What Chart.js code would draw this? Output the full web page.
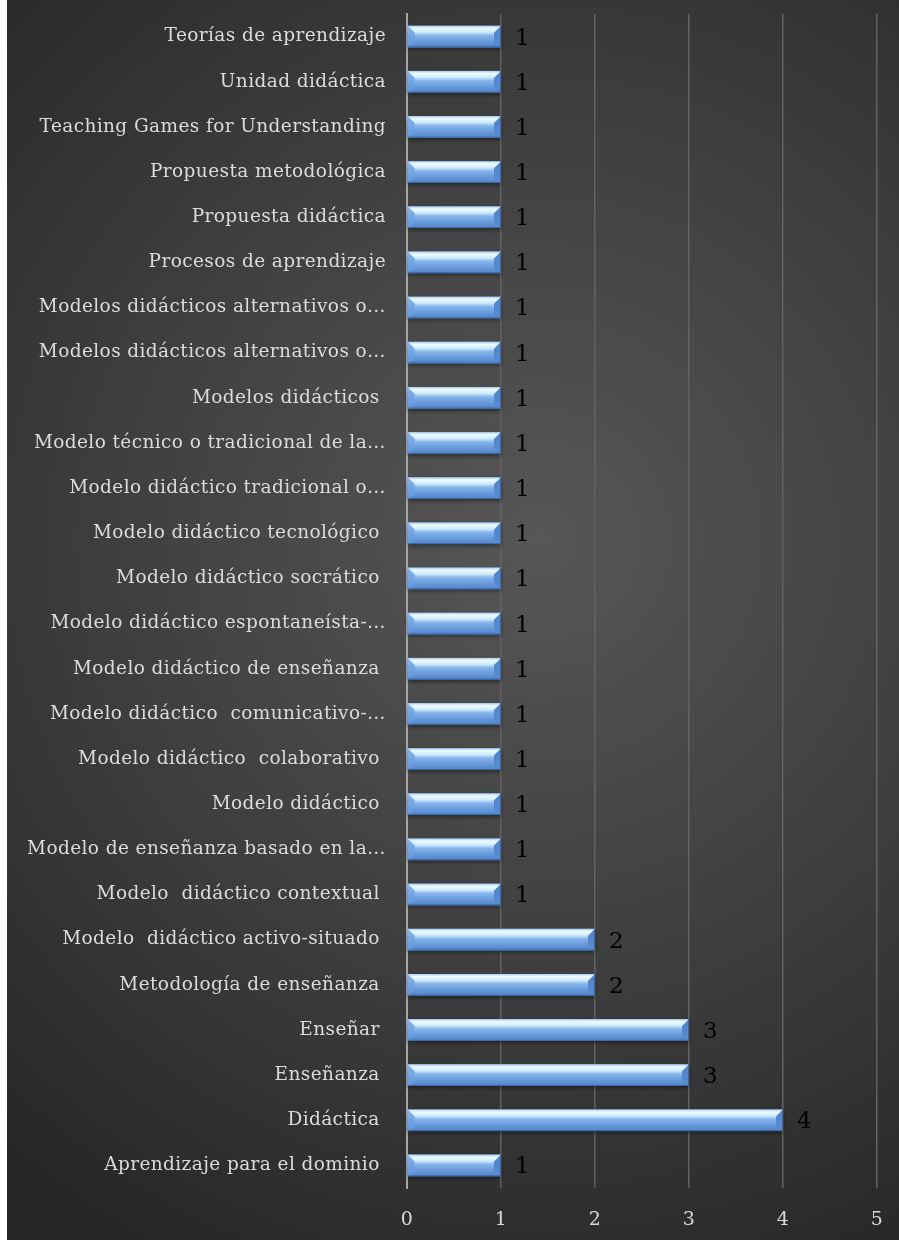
<!DOCTYPE html>
<html><head><meta charset="utf-8">
<script src="https://cdn.jsdelivr.net/npm/chart.js@4"></script>
<style>html,body{margin:0;padding:0;background:#fff;}#wrap{width:899px;height:1240px;position:relative;}</style>
</head><body><div id="wrap"><canvas id="c" width="899" height="1240"></canvas></div>
<script>
const categories = [
  "Teorías de aprendizaje","Unidad didáctica","Teaching Games for Understanding","Propuesta metodológica",
  "Propuesta didáctica","Procesos de aprendizaje","Modelos didácticos alternativos o…","Modelos didácticos alternativos o…",
  "Modelos didácticos ","Modelo técnico o tradicional de la…","Modelo didáctico tradicional o…","Modelo didáctico tecnológico ",
  "Modelo didáctico socrático ","Modelo didáctico espontaneísta-…","Modelo didáctico de enseñanza ","Modelo didáctico  comunicativo-…",
  "Modelo didáctico  colaborativo ","Modelo didáctico ","Modelo de enseñanza basado en la…","Modelo  didáctico contextual ",
  "Modelo  didáctico activo-situado ","Metodología de enseñanza ","Enseñar ","Enseñanza ","Didáctica ","Aprendizaje para el dominio "
];
const values = [1,1,1,1,1,1,1,1,1,1,1,1,1,1,1,1,1,1,1,1,2,2,3,3,4,1];
const xTicks = [0,1,2,3,4,5];

const SERIF = "'DejaVu Serif', 'Liberation Serif', serif";

const bgPlugin = {
  id:'bg',
  beforeDraw(chart){
    const c = chart.ctx;
    c.save();
    c.fillStyle = '#ffffff';
    c.fillRect(0,0,chart.width,chart.height);
    const g = c.createRadialGradient(540,540,0,540,540,820);
    g.addColorStop(0,'#575757');
    g.addColorStop(0.55,'#3d3d3d');
    g.addColorStop(1,'#262626');
    c.fillStyle = g;
    c.fillRect(7,0,chart.width-7,chart.height);
    c.restore();
    c.letterSpacing = '0.4px';
  }
};

const barPlugin = {
  id:'bevelbars',
  afterDatasetsDraw(chart){
    const c = chart.ctx;
    const meta = chart.getDatasetMeta(0);
    meta.data.forEach((el,i)=>{
      const p = el.getProps(['x','y','base','height'],true);
      const x0 = p.base, x1 = p.x, top = p.y - p.height/2, bot = p.y + p.height/2, h = p.height;
      const b = 7;
      c.save();
      c.shadowColor='rgba(0,0,0,0.45)'; c.shadowBlur=4; c.shadowOffsetY=2;
      const g = c.createLinearGradient(0,top,0,bot);
      g.addColorStop(0,'#a6cdf2');
      g.addColorStop(0.12,'#f0fbff');
      g.addColorStop(0.3,'#cdeafc');
      g.addColorStop(0.45,'#88b6ea');
      g.addColorStop(0.7,'#6b9cdd');
      g.addColorStop(1,'#5283c6');
      c.fillStyle = g;
      c.fillRect(x0,top,x1-x0,h);
      c.restore();
      c.save();
      const gl = c.createLinearGradient(0,top,0,bot);
      gl.addColorStop(0,'#86b4ea'); gl.addColorStop(1,'#6196da');
      c.fillStyle = gl;
      c.beginPath(); c.moveTo(x0,top); c.lineTo(x0+b,top+b); c.lineTo(x0+b,bot-b*0.6); c.lineTo(x0,bot); c.closePath(); c.fill();
      const gr = c.createLinearGradient(0,top,0,bot);
      gr.addColorStop(0,'#4f82c8'); gr.addColorStop(1,'#5a8cd2');
      c.fillStyle = gr;
      c.beginPath(); c.moveTo(x1,top); c.lineTo(x1-b,top+b); c.lineTo(x1-b,bot-b*0.6); c.lineTo(x1,bot); c.closePath(); c.fill();
      c.strokeStyle='#3a68a8'; c.lineWidth=1;
      c.beginPath(); c.moveTo(x0,bot-0.5); c.lineTo(x1,bot-0.5); c.stroke();
      c.beginPath(); c.moveTo(x1-0.5,top); c.lineTo(x1-0.5,bot); c.stroke();
      c.fillStyle='#000000';
      c.font = "23px " + SERIF;
      c.letterSpacing = '0px';
      c.textAlign='left'; c.textBaseline='middle';
      c.fillText(String(values[i]), x1+14, p.y+2);
      c.restore();
    });
  }
};

new Chart(document.getElementById('c'),{
  type:'bar',
  data:{labels:categories,datasets:[{data:values,backgroundColor:'#6b9ad9',borderWidth:0,barPercentage:0.96,categoryPercentage:0.5}]},
  options:{
    indexAxis:'y',
    responsive:false,
    animation:false,
    devicePixelRatio:1,
    layout:{padding:{top:14,right:22,left:0,bottom:0}},
    plugins:{legend:{display:false},tooltip:{enabled:false}},
    scales:{
      x:{
        min:0,max:5,
        afterBuildTicks(s){ s.ticks = xTicks.map(v=>({value:v})); },
        afterFit(s){ s.height = 52; s.paddingLeft = 0; s.paddingRight = 0; },
        grid:{color:'#626262',lineWidth:1.5,drawTicks:false},
        border:{display:false},
        ticks:{color:'#d9d9d9',font:{family:SERIF,size:19},padding:21}
      },
      y:{
        afterFit(s){ s.width = 407; s.paddingTop = 0; s.paddingBottom = 0; },
        grid:{display:false,drawTicks:false},
        border:{display:true,color:'#a6a6a6',width:2},
        ticks:{color:'#dcdcdc',font:{family:SERIF,size:18.5},padding:21,autoSkip:false}
      }
    }
  },
  plugins:[bgPlugin,barPlugin]
});
</script></body></html>
